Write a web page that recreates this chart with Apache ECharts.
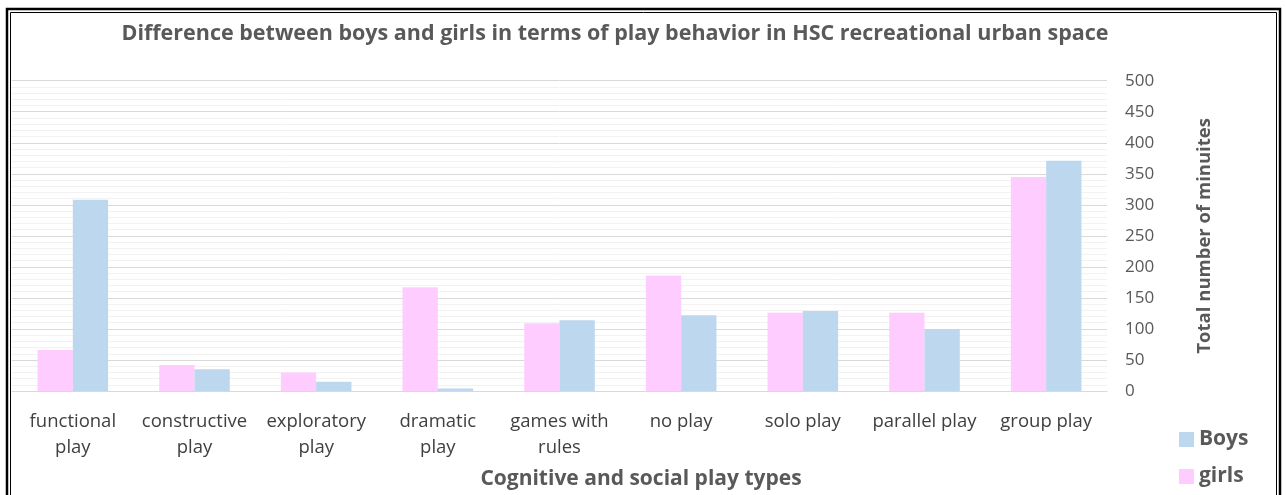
<!DOCTYPE html>
<html><head><meta charset="utf-8">
<script src="https://cdn.jsdelivr.net/npm/echarts@6/dist/echarts.min.js"></script>
<style>html,body{margin:0;padding:0;background:#fff}#c{width:1287px;height:495px}</style>
</head><body><div id="c"></div>
<script>
const categories = ['functional\nplay','constructive\nplay','exploratory\nplay','dramatic\nplay','games with\nrules','no play','solo play','parallel play','group play'];
const girls = [66, 42, 30, 167, 109, 186, 126, 126, 345];
const boys = [308, 35, 15, 4, 114, 122, 129, 100, 371];
const yTicks = {min: 0, max: 500, interval: 50};

const chart = echarts.init(document.getElementById('c'));
const font = '"Open Sans", "DejaVu Sans", sans-serif';
chart.setOption({
  animation: false,
  title: {
    text: 'Difference between boys and girls in terms of play behavior in HSC recreational urban space',
    left: 610, top: 18, textAlign: 'center',
    textStyle: {fontFamily: font, fontWeight: 'bold', fontSize: 21.5, color: '#595959'}
  },
  graphic: [
    {type: 'rect', shape: {x: 7, y: 9, width: 1273, height: 495}, style: {fill: 'none', stroke: '#000', lineWidth: 2.5}},
    {type: 'rect', shape: {x: 10.5, y: 12.5, width: 1266, height: 490}, style: {fill: 'none', stroke: '#000', lineWidth: 1}}
  ],
  legend: {
    orient: 'vertical', left: 1174, top: 424, itemGap: 16,
    itemWidth: 15, itemHeight: 15, icon: 'rect',
    data: ['Boys', 'girls'],
    textStyle: {fontFamily: font, fontWeight: 'bold', fontSize: 21, color: '#595959'}
  },
  grid: {left: 12, right: 180, top: 80.7, bottom: 103.3, containLabel: false},
  xAxis: {
    type: 'category', data: categories,
    name: 'Cognitive and social play types', nameLocation: 'middle', nameGap: 78,
    nameTextStyle: {fontFamily: font, fontWeight: 'bold', fontSize: 21, color: '#595959', padding: [0,0,0,163]},
    axisLine: {lineStyle: {color: '#D9D9D9', width: 1}},
    axisTick: {show: false},
    axisLabel: {interval: 0, margin: 18, lineHeight: 26, fontFamily: font, fontSize: 18.5, color: '#404040'}
  },
  yAxis: {
    type: 'value', position: 'right', min: yTicks.min, max: yTicks.max, interval: yTicks.interval,
    name: 'Total number of minuites', nameLocation: 'middle', nameGap: 88, nameRotate: 90,
    nameTextStyle: {fontFamily: font, fontWeight: 'bold', fontSize: 18.5, color: '#595959'},
    axisLine: {show: false}, axisTick: {show: false},
    axisLabel: {margin: 18, fontFamily: font, fontSize: 17, color: '#595959'},
    splitLine: {lineStyle: {color: '#D9D9D9', width: 1}},
    minorTick: {show: false, splitNumber: 5},
    minorSplitLine: {show: true, lineStyle: {color: '#F2F2F2', width: 1}}
  },
  series: [
    {name: 'girls', type: 'bar', data: girls, barGap: '0%', barCategoryGap: '42%',
     itemStyle: {color: '#FFCCFF'}},
    {name: 'Boys', type: 'bar', data: boys, barGap: '0%', barCategoryGap: '42%',
     itemStyle: {color: '#BDD7EE'}}
  ]
});
</script></body></html>
